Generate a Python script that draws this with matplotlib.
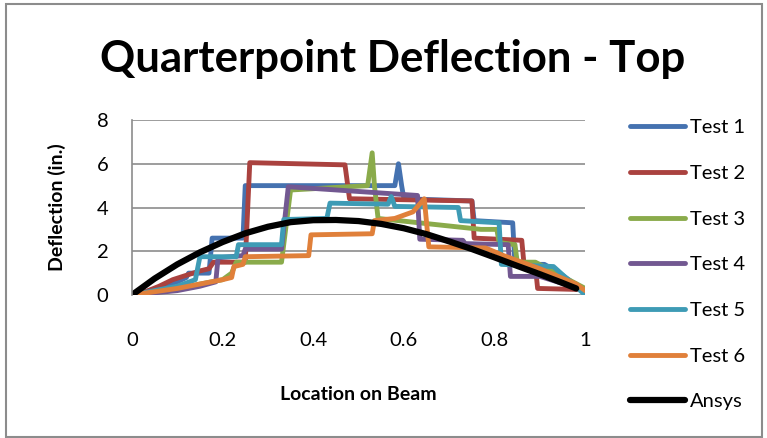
import matplotlib
matplotlib.use("Agg")
import matplotlib.pyplot as plt
from matplotlib.patches import Rectangle

plt.rcParams['font.family'] = ['Lato', 'DejaVu Sans']

# measured deflections along the beam (x = fraction of span, y = in.)
test1_x = [0, 0.04, 0.06, 0.08, 0.1, 0.12, 0.125, 0.17, 0.177, 0.245, 0.25, 0.57, 0.58, 0.588, 0.595, 0.6, 0.75, 0.755, 0.84, 0.845, 0.91, 0.95, 0.99, 1.0]
test1_y = [0, 0.2, 0.3, 0.5, 0.6, 0.8, 1.0, 1.0, 2.6, 2.6, 5.0, 5.0, 5.0, 6.0, 5.0, 4.4, 4.3, 3.4, 3.3, 1.4, 1.4, 0.9, 0.3, 0.1]

test2_x = [0, 0.03, 0.06, 0.09, 0.12, 0.15, 0.17, 0.18, 0.25, 0.26, 0.47, 0.48, 0.75, 0.755, 0.86, 0.865, 0.89, 0.895, 0.99, 1.0]
test2_y = [0, 0.15, 0.4, 0.7, 0.9, 1.1, 1.2, 1.5, 1.5, 6.05, 5.95, 4.4, 4.3, 2.6, 2.5, 1.4, 1.3, 0.3, 0.25, 0.1]

test3_x = [0, 0.05, 0.1, 0.15, 0.2, 0.22, 0.23, 0.33, 0.35, 0.52, 0.53, 0.535, 0.543, 0.77, 0.805, 0.81, 0.845, 0.85, 0.89, 1.0]
test3_y = [0, 0.1, 0.25, 0.5, 0.7, 1.0, 1.5, 1.5, 4.8, 5.0, 6.5, 5.0, 3.5, 3.0, 3.0, 2.4, 2.3, 1.5, 1.5, 0.3]

test4_x = [0, 0.05, 0.1, 0.15, 0.185, 0.19, 0.245, 0.25, 0.33, 0.345, 0.63, 0.635, 0.73, 0.735, 0.83, 0.835, 0.9, 1.0]
test4_y = [0, 0.1, 0.2, 0.4, 0.6, 1.7, 1.8, 2.1, 2.1, 4.95, 4.55, 2.55, 2.5, 2.35, 2.3, 0.85, 0.85, 0.2]

test5_x = [0, 0.05, 0.1, 0.14, 0.15, 0.23, 0.235, 0.33, 0.335, 0.43, 0.437, 0.565, 0.572, 0.58, 0.72, 0.725, 0.81, 0.815, 0.93, 1.0]
test5_y = [0, 0.2, 0.4, 0.7, 1.75, 1.75, 2.3, 2.3, 3.45, 3.5, 4.2, 4.15, 4.5, 4.05, 4.0, 3.4, 3.3, 1.4, 1.3, 0.0]

test6_x = [0, 0.05, 0.1, 0.15, 0.2, 0.22, 0.225, 0.245, 0.25, 0.39, 0.395, 0.53, 0.535, 0.58, 0.62, 0.645, 0.655, 0.78, 0.82, 0.9, 0.98, 1.0]
test6_y = [0, 0.15, 0.3, 0.5, 0.7, 0.8, 1.3, 1.4, 1.75, 1.8, 2.75, 2.8, 3.4, 3.5, 3.8, 4.4, 2.2, 2.15, 1.8, 1.2, 0.5, 0.2]

# finite element prediction
ansys_x = [0, 0.05, 0.1, 0.15, 0.2, 0.25, 0.3, 0.35, 0.4, 0.45, 0.5, 0.55, 0.6, 0.65, 0.7, 0.75, 0.8, 0.85, 0.9, 0.95, 0.98]
ansys_y = [0, 0.75, 1.4, 1.95, 2.42, 2.82, 3.12, 3.33, 3.42, 3.43, 3.38, 3.25, 3.05, 2.78, 2.45, 2.1, 1.72, 1.33, 0.95, 0.55, 0.3]

series = [
    ("Test 1", test1_x, test1_y, "#4572b0"),
    ("Test 2", test2_x, test2_y, "#aa423f"),
    ("Test 3", test3_x, test3_y, "#8aab4b"),
    ("Test 4", test4_x, test4_y, "#725891"),
    ("Test 5", test5_x, test5_y, "#3e9bb5"),
    ("Test 6", test6_x, test6_y, "#e0803a"),
]

fig = plt.figure(figsize=(7.67, 4.38), dpi=100)
ax = fig.add_axes([0.172, 0.3265, 0.591, 0.3995])

for name, xs, ys, col in series:
    ax.plot(xs, ys, color=col, lw=3.5, label=name, solid_joinstyle="round", solid_capstyle="round")
ax.plot(ansys_x, ansys_y, color="black", lw=4.5, label="Ansys", solid_capstyle="round")

ax.set_xlim(0, 1)
ax.set_ylim(0, 8)
ax.set_xticks([0, 0.2, 0.4, 0.6, 0.8, 1])
ax.set_xticklabels(["0", "0.2", "0.4", "0.6", "0.8", "1"])
ax.set_yticks([0, 2, 4, 6, 8])
ax.grid(axis="y", color="#8c8c8c", lw=1.2)
ax.set_axisbelow(True)
for s in ["top", "right", "bottom"]:
    ax.spines[s].set_visible(False)
ax.spines["left"].set_color("#8c8c8c")
ax.spines["left"].set_linewidth(1.2)
ax.tick_params(axis="both", length=0, labelsize=14.5)
ax.tick_params(axis="x", pad=27)
ax.tick_params(axis="y", pad=17)

ax.set_xlabel("Location on Beam", fontsize=14, fontweight="bold", labelpad=26)
ax.set_ylabel("Deflection (in.)", fontsize=14, fontweight="bold", labelpad=22)
fig.text(0.512, 0.865, "Quarterpoint Deflection - Top", fontsize=31.5, fontweight="bold", ha="center", va="center")

ax.legend(loc="upper left", bbox_to_anchor=(0.822, 0.728), bbox_transform=fig.transFigure,
          frameon=False, fontsize=14.5, handlelength=2.7, handletextpad=0.25, labelspacing=1.42,
          borderaxespad=0, borderpad=0)

fig.patches.append(Rectangle((6 / 767, 1 / 438), 756 / 767, 433 / 438, transform=fig.transFigure,
                             fill=False, edgecolor="#8c8c8c", lw=1.5))

fig.savefig("out.png", dpi=100)
